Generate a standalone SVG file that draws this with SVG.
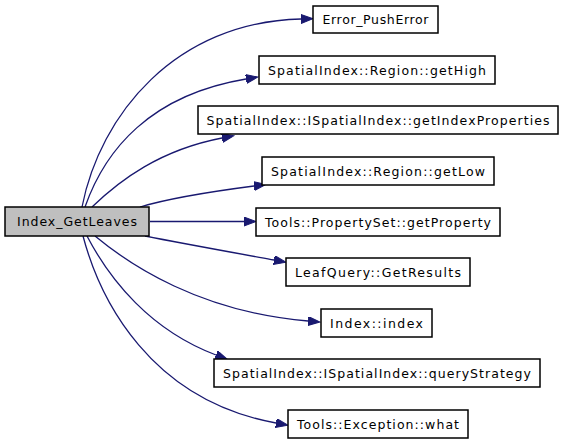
<svg xmlns="http://www.w3.org/2000/svg" width="563" height="443" viewBox="0 0 563 443">
<style>
.box{fill:#ffffff;stroke:#000000;stroke-width:1.5}
.main{fill:#bfbfbf;stroke:#000000;stroke-width:1.5}
.lbl{font-family:"DejaVu Sans",sans-serif;font-size:12.5px;fill:#000000;text-anchor:middle}
.edge{fill:none;stroke:#191970;stroke-width:1.3}
</style>
<defs>
<marker id="arr" markerUnits="userSpaceOnUse" markerWidth="13" markerHeight="10" refX="0" refY="4.5" orient="auto">
<path d="M0,0 L12,4.5 L0,9 z" fill="#191970" stroke="#191970" stroke-width="1"/>
</marker>
</defs>
<rect width="563" height="443" fill="#ffffff"/>
<g id="edges">
<path class="edge" marker-end="url(#arr)" d="M82,207 C100,115 175,22 301,19"/>
<path class="edge" marker-end="url(#arr)" d="M85,207 C105,150 150,95 246,79"/>
<path class="edge" marker-end="url(#arr)" d="M92,207 C120,180 160,150 222,138"/>
<path class="edge" marker-end="url(#arr)" d="M140,207 C160,201 200,193 254,186"/>
<path class="edge" marker-end="url(#arr)" d="M150,221.5 L244,221.5"/>
<path class="edge" marker-end="url(#arr)" d="M145,236 C180,243 230,252 274,260"/>
<path class="edge" marker-end="url(#arr)" d="M95,236 C130,265 200,312 308,321"/>
<path class="edge" marker-end="url(#arr)" d="M87,236 C110,280 150,330 216,355"/>
<path class="edge" marker-end="url(#arr)" d="M83,236 C100,300 150,400 276,423"/>
</g>
<g id="n0"><rect class="main" x="5" y="207" width="144" height="29"/><text class="lbl" x="77" y="226" textLength="120" lengthAdjust="spacing">Index_GetLeaves</text></g>
<g id="n1"><rect class="box" x="313" y="6" width="125" height="27"/><text class="lbl" x="375.5" y="24" textLength="106" lengthAdjust="spacing">Error_PushError</text></g>
<g id="n2"><rect class="box" x="259" y="56" width="236" height="28"/><text class="lbl" x="377" y="74.5" textLength="218" lengthAdjust="spacing">SpatialIndex::Region::getHigh</text></g>
<g id="n3"><rect class="box" x="198" y="106" width="360" height="28"/><text class="lbl" x="378" y="124.5" textLength="343" lengthAdjust="spacing">SpatialIndex::ISpatialIndex::getIndexProperties</text></g>
<g id="n4"><rect class="box" x="262" y="157" width="232" height="28"/><text class="lbl" x="378" y="175.5" textLength="214" lengthAdjust="spacing">SpatialIndex::Region::getLow</text></g>
<g id="n5"><rect class="box" x="256" y="208" width="244" height="28"/><text class="lbl" x="378" y="226.5" textLength="226" lengthAdjust="spacing">Tools::PropertySet::getProperty</text></g>
<g id="n6"><rect class="box" x="286" y="258" width="184" height="28"/><text class="lbl" x="378" y="276.5" textLength="166" lengthAdjust="spacing">LeafQuery::GetResults</text></g>
<g id="n7"><rect class="box" x="321" y="309" width="111" height="28"/><text class="lbl" x="376.5" y="327.5" textLength="93" lengthAdjust="spacing">Index::index</text></g>
<g id="n8"><rect class="box" x="214" y="359" width="326" height="28"/><text class="lbl" x="377" y="377.5" textLength="308" lengthAdjust="spacing">SpatialIndex::ISpatialIndex::queryStrategy</text></g>
<g id="n9"><rect class="box" x="288" y="410" width="180" height="28"/><text class="lbl" x="378" y="428.5" textLength="162" lengthAdjust="spacing">Tools::Exception::what</text></g>
</svg>
